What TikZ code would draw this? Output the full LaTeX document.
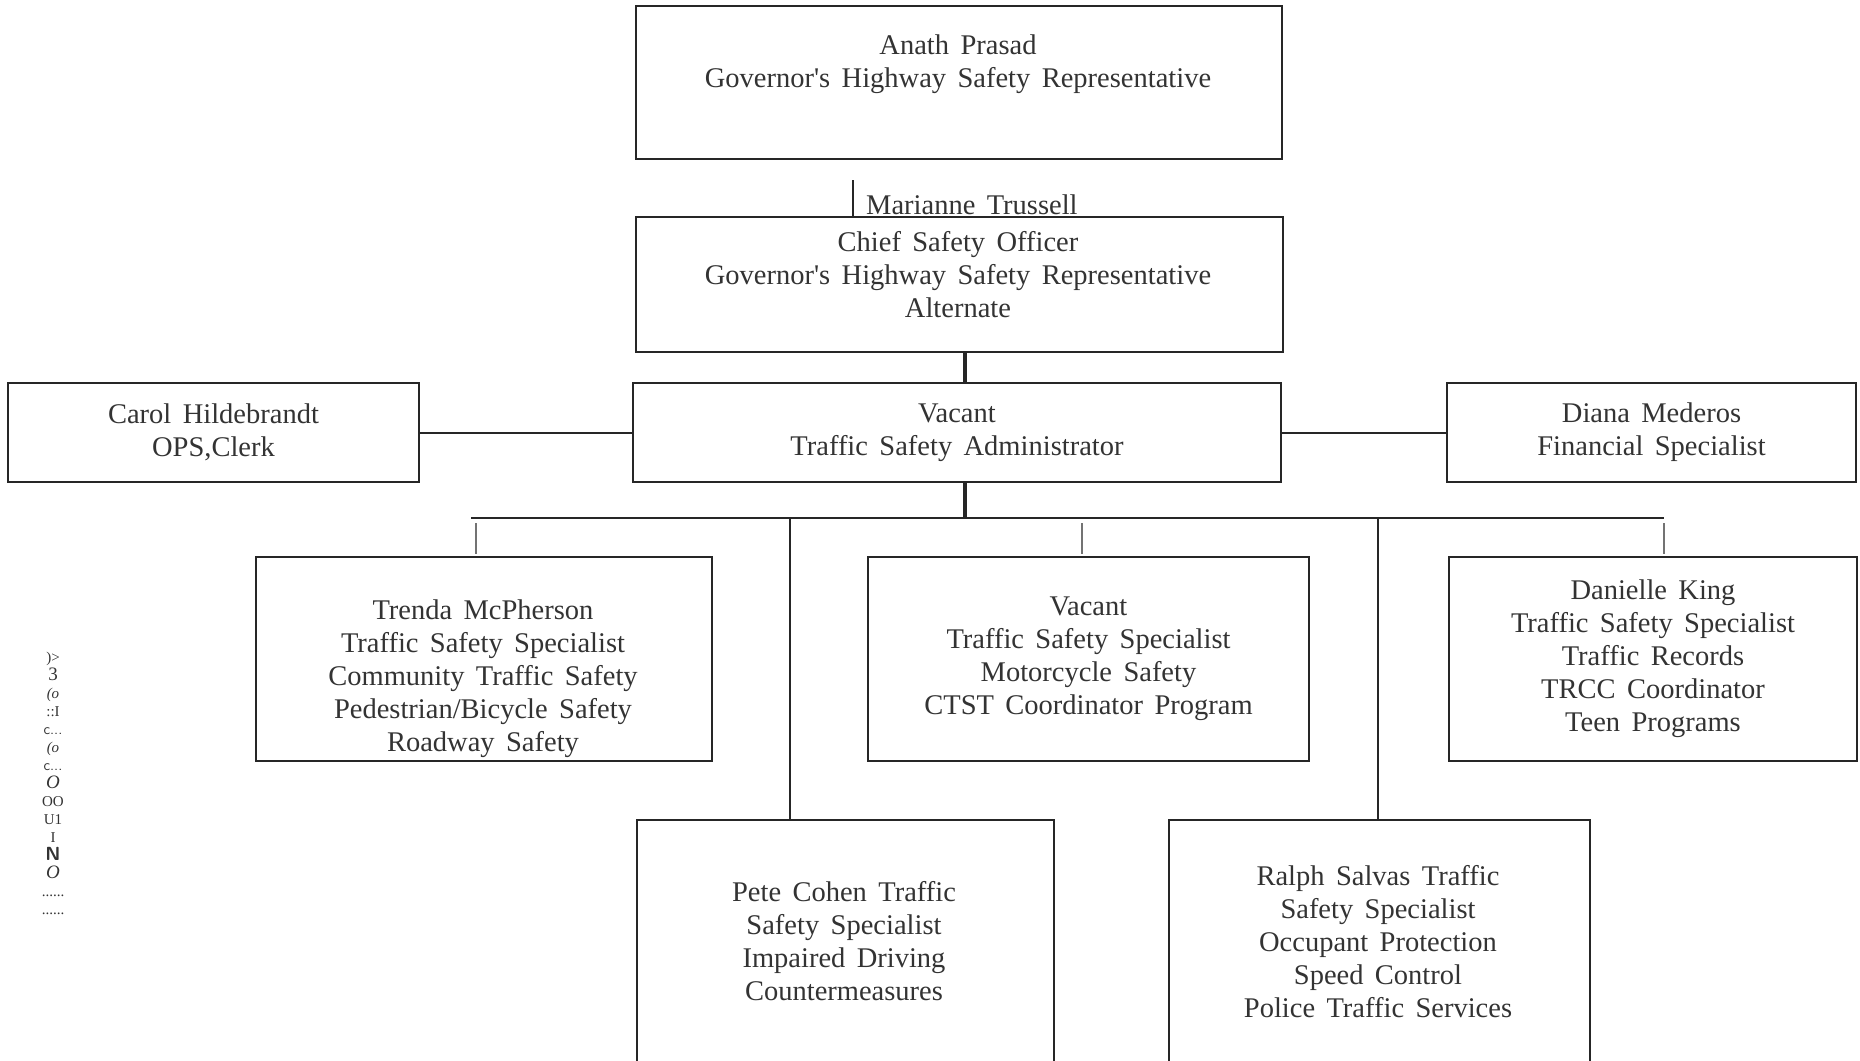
\documentclass[tikz,border=0pt]{standalone}
\usepackage{fontspec}
\setmainfont[WordSpace=1.6]{Liberation Serif}

\tikzset{
  unit/.style={draw=black!85, line width=2pt, inner sep=0pt, align=center,
    text=black!80, font=\fontsize{28.5}{33}\selectfont},
  names/.style={align=center, text=black!80, font=\fontsize{28.5}{33}\selectfont},
  link/.style={draw=black!85, line width=2pt},
  trunk/.style={draw=black!85, line width=3.5pt},
  stub/.style={draw=black!55, line width=2pt},
}
\newcommand{\ap}{\textquotesingle}
\newcommand{\bigch}[1]{{\fontsize{19}{18}\selectfont #1}}

\begin{document}
\begin{tikzpicture}[x=1pt,y=-1pt]
  \useasboundingbox (0,0) rectangle (1860,1060);
  \clip (0,0) rectangle (1860,1060);

  % top of the chart
  \node[unit, minimum width=646pt, minimum height=153pt] (rep) at (959,82.5) {};
  \node[names] (rep-t) at (958,64.5) {Anath Prasad\\Governor\ap s Highway Safety Representative};

  \node[unit, minimum width=647pt, minimum height=135pt] (cso) at (959.5,284.5) {};
  \node[names] (cso-t) at (958,275) {Chief Safety Officer\\Governor\ap s Highway Safety Representative\\Alternate};
  \node[names, anchor=base west, inner sep=0pt] (cso-n) at (866,214) {Marianne Trussell};
  \coordinate (cso-tick) at (853,180);
  \draw[link] (cso-tick) -- (cso-tick |- cso.north);

  % administrator row
  \node[unit, minimum width=648pt, minimum height=99pt] (adm) at (957,432.5) {Vacant\\Traffic Safety Administrator};
  \node[unit, minimum width=411pt, minimum height=99pt] (car) at (213.5,432.5) {Carol Hildebrandt\\OPS,Clerk};
  \node[unit, minimum width=409pt, minimum height=99pt] (dia) at (1651.5,432.5) {Diana Mederos\\Financial Specialist};
  \draw[link] (car.east) -- (adm.west);
  \draw[link] (adm.east) -- (dia.west);

  \coordinate (spine) at (965,0);
  \coordinate (busl) at (471,518);
  \coordinate (busr) at (1664,518);
  \draw[trunk] (spine |- cso.south) -- (spine |- adm.north);
  \draw[trunk] (spine |- adm.south) -- (spine |- busl);
  \draw[link] (busl) -- (busr);

  % specialists
  \node[unit, minimum width=456pt, minimum height=204pt] (tre) at (484,659) {};
  \node[names] (tre-t) at (483,679) {Trenda McPherson\\Traffic Safety Specialist\\Community Traffic Safety\\Pedestrian/Bicycle Safety\\Roadway Safety};
  \node[unit, minimum width=441pt, minimum height=204pt] (mot) at (1088.5,659) {Vacant\\Traffic Safety Specialist\\Motorcycle Safety\\CTST Coordinator Program};
  \node[unit, minimum width=408pt, minimum height=204pt] (dan) at (1653,659) {Danielle King\\Traffic Safety Specialist\\Traffic Records\\TRCC Coordinator\\Teen Programs};

  \foreach \x/\n in {476/tre,1082/mot,1664/dan} {
    \coordinate (t-\n) at (\x,523);
    \draw[stub] (t-\n) -- ++(0,31);
  }

  \node[unit, minimum width=417pt, minimum height=280pt] (pet) at (845.5,960) {};
  \node[names] (pet-t) at (844,941.5) {Pete Cohen Traffic\\Safety Specialist\\Impaired Driving\\Countermeasures};
  \node[unit, minimum width=421pt, minimum height=280pt] (ral) at (1379.5,960) {};
  \node[names] (ral-t) at (1378,942) {Ralph Salvas Traffic\\Safety Specialist\\Occupant Protection\\Speed Control\\Police Traffic Services};

  \coordinate (drop-pet) at (790,518);
  \coordinate (drop-ral) at (1378,518);
  \draw[link] (drop-pet) -- (drop-pet |- pet.north);
  \draw[link] (drop-ral) -- (drop-ral |- ral.north);

  % page number as scanned
  \node[align=center, text=black!80, font=\fontsize{15}{18}\selectfont] (pgno) at (53,783)
    {)>\\\bigch{3}\\\textit{(o}\\::I\\\textsf{c...}\\\textit{(o}\\\textsf{c...}\\\bigch{\textit{O}}\\OO\\U1\\I\\\bigch{\textsf{\textbf{N}}}\\\bigch{\textit{O}}\\......\\......};
\end{tikzpicture}
\end{document}
